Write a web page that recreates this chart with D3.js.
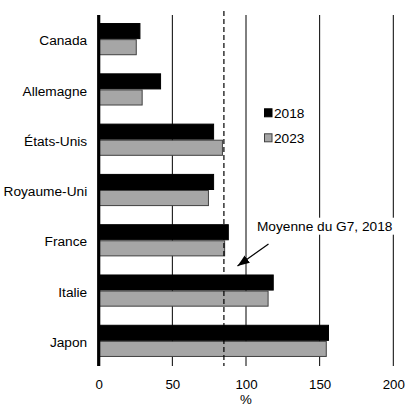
<!DOCTYPE html>
<html><head><meta charset="utf-8">
<script src="https://cdn.jsdelivr.net/npm/d3@7"></script>
<style>body{margin:0;background:#fff}svg{display:block;font-family:"Liberation Sans",Arial,sans-serif}</style>
</head><body>
<svg id="c" width="416" height="418"></svg>
<script>
const categories = ["Canada","Allemagne","États-Unis","Royaume-Uni","France","Italie","Japon"];
const series = ["2018","2023"];
const values2018 = [28, 42, 78, 78, 88, 118.5, 156];
const values2023 = [25.5, 29.5, 84, 74.5, 85.5, 115, 154.5];
const g7Average2018 = 85;
const xTicks = [0, 50, 100, 150, 200];
const annotationText = "Moyenne du G7, 2018";
const axisTitle = "%";

(function () {
const FONT = "'Liberation Sans', Arial, sans-serif";
const svg = d3.select("#c");
const pLeft = 98.7, pRight = 393.3, pTop = 15, pBottom = 365;
const x = d3.scaleLinear().domain([0, 200]).range([pLeft, pRight]);
const y = d3.scaleBand().domain(categories).range([pTop, pBottom]).paddingInner(0.36).paddingOuter(0.16);
const ySub = d3.scaleBand().domain(series).range([0, y.bandwidth()]);
const colors = {"2018": "#000000", "2023": "#a6a6a6"};
const strokes = {"2018": "#000000", "2023": "#404040"};

// gridlines
svg.append("g").selectAll("line").data(xTicks.slice(1)).join("line")
  .attr("x1", d => x(d)).attr("x2", d => x(d))
  .attr("y1", pTop).attr("y2", pBottom + 1)
  .attr("stroke", "#000").attr("stroke-width", 1);

// bars
const data = categories.map((c, i) => ({c, vals: [{s: "2018", v: values2018[i]}, {s: "2023", v: values2023[i]}]}));
const groups = svg.append("g").selectAll("g").data(data).join("g")
  .attr("transform", d => `translate(0,${y(d.c)})`);
groups.selectAll("rect").data(d => d.vals).join("rect")
  .attr("x", x(0))
  .attr("y", d => ySub(d.s) + 0.5)
  .attr("width", d => x(d.v) - x(0))
  .attr("height", ySub.bandwidth() - 1)
  .attr("fill", d => colors[d.s])
  .attr("stroke", d => strokes[d.s])
  .attr("stroke-width", 1);

// dashed average line
svg.append("line")
  .attr("x1", x(g7Average2018)).attr("x2", x(g7Average2018))
  .attr("y1", 11).attr("y2", pBottom + 1)
  .attr("stroke", "#000").attr("stroke-width", 1.2)
  .attr("stroke-dasharray", "5,3");

// left axis line
svg.append("line").attr("x1", x(0)).attr("x2", x(0))
  .attr("y1", pTop).attr("y2", pBottom + 1)
  .attr("stroke", "#000").attr("stroke-width", 3.2);

// y labels
const yAxis = d3.axisLeft(y).tickSize(0).tickPadding(11.5);
const ya = svg.append("g").attr("transform", `translate(${x(0)},0)`).call(yAxis);
ya.select(".domain").remove();
ya.selectAll("text").attr("font-size", 13.7).attr("fill", "#000")
  .attr("font-family", FONT).attr("dy", "0.45em");

// x axis labels
const xAxis = d3.axisBottom(x).tickValues(xTicks).tickSize(0).tickPadding(0).tickFormat(d3.format("d"));
const xa = svg.append("g").attr("transform", `translate(0,${pBottom})`).call(xAxis);
xa.select(".domain").remove();
xa.selectAll("text").attr("font-size", 13.3).attr("fill", "#000")
  .attr("font-family", FONT).attr("dy", null).attr("y", 24);

svg.append("text").attr("x", x(100)).attr("y", 404).attr("text-anchor", "middle")
  .attr("font-size", 13.3).attr("font-family", FONT).text(axisTitle);

// legend
const leg = svg.append("g");
series.forEach((s, i) => {
  const base = 118.3 + i * 25;
  leg.append("rect").attr("x", 264.5).attr("y", base - 9.5).attr("width", 7.5).attr("height", 8)
    .attr("fill", colors[s]).attr("stroke", strokes[s]).attr("stroke-width", 1);
  leg.append("text").attr("x", 274).attr("y", base).attr("font-size", 13.7)
    .attr("font-family", FONT).text(s);
});

// annotation
const ag = svg.append("g");
const ann = ag.append("text").attr("x", 324.7).attr("y", 230.7).attr("text-anchor", "middle")
  .attr("font-size", 13.7).attr("font-family", FONT).text(annotationText);
const bb = ann.node().getBBox();
ag.insert("rect", "text").attr("x", bb.x - 2).attr("y", bb.y - 1)
  .attr("width", bb.width + 4).attr("height", bb.height + 2).attr("fill", "#fff");
svg.append("defs").append("marker").attr("id", "ah").attr("viewBox", "0 0 12 9")
  .attr("refX", 12).attr("refY", 4.5).attr("markerWidth", 12).attr("markerHeight", 9)
  .attr("markerUnits", "userSpaceOnUse").attr("orient", "auto")
  .append("path").attr("d", "M0,0 L12,4.5 L0,9 z").attr("fill", "#000");
svg.append("line").attr("x1", 268.5).attr("y1", 244).attr("x2", 237.5).attr("y2", 266)
  .attr("stroke", "#000").attr("stroke-width", 1.2).attr("marker-end", "url(#ah)");
})();
</script>
</body></html>
